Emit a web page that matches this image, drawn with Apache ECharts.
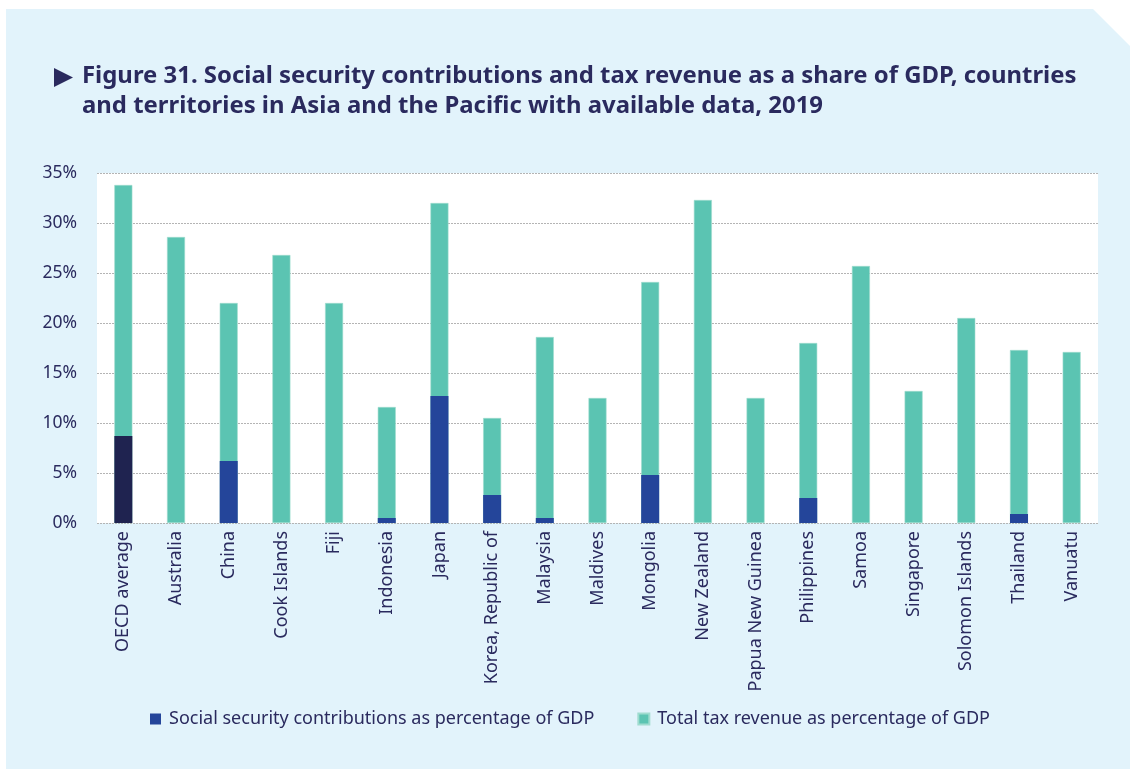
<!DOCTYPE html>
<html>
<head>
<meta charset="utf-8">
<script src="https://cdn.jsdelivr.net/npm/echarts@6/dist/echarts.min.js"></script>
<style>
  html, body { margin: 0; padding: 0; background: #fff; }
  #chart { width: 1130px; height: 769px; }
</style>
</head>
<body>
<div id="chart"></div>
<script>
const categories = ['OECD average', 'Australia', 'China', 'Cook Islands', 'Fiji', 'Indonesia', 'Japan',
  'Korea, Republic of', 'Malaysia', 'Maldives', 'Mongolia', 'New Zealand', 'Papua New Guinea',
  'Philippines', 'Samoa', 'Singapore', 'Solomon Islands', 'Thailand', 'Vanuatu']

// social security contributions, % of GDP (null = no data)
const socialSecurity = [8.7, null, 6.2, null, null, 0.5, 12.7, 2.8, 0.5, null, 4.8, null, null, 2.5, null, null, null, 0.9, null]

// total tax revenue, % of GDP
const totalTax = [33.8, 28.6, 22.0, 26.8, 22.0, 11.6, 32.0, 10.5, 18.6, 12.5, 24.1, 32.3, 12.5, 18.0, 25.7, 13.2, 20.5, 17.3, 17.1]

const yTicks = [0, 5, 10, 15, 20, 25, 30, 35]

const navy = '#2a2a5e'
const ssColor = '#24459a'
const oecdColor = '#1f2350'
const taxColor = '#5bc4b2'

const myChart = echarts.init(document.getElementById('chart'))

const option = {
  backgroundColor: '#fff',
  animation: false,
  graphic: [
    {
      type: 'polygon',
      z: -100,
      silent: true,
      shape: { points: [[6, 9], [1093, 9], [1130, 46], [1130, 769], [6, 769]] },
      style: { fill: '#e2f3fb' }
    },
    {
      type: 'polygon',
      shape: { points: [[54, 68], [73, 77.5], [54, 87]] },
      style: { fill: navy }
    },
    {
      type: 'text',
      left: 82,
      top: 61,
      style: {
        text: 'Figure 31. Social security contributions and tax revenue as a share of GDP, countries\nand territories in Asia and the Pacific with available data, 2019',
        fill: navy,
        font: 'bold 23.9px "Noto Sans"',
        lineHeight: 30
      }
    }
  ],
  legend: {
    data: ['Social security contributions as percentage of GDP', 'Total tax revenue as percentage of GDP'],
    left: 145,
    top: 705,
    icon: 'rect',
    itemWidth: 11,
    itemHeight: 11,
    itemGap: 43,
    textStyle: { color: navy, fontSize: 18, fontFamily: 'Noto Sans', padding: [0, 0, 0, 3] }
  },
  grid: {
    left: 97,
    right: 32,
    top: 173,
    bottom: 246,
    show: true,
    backgroundColor: '#fff',
    borderWidth: 0
  },
  xAxis: {
    type: 'category',
    data: categories,
    axisLine: { show: false },
    axisTick: { show: false },
    axisLabel: {
      interval: 0,
      rotate: 90,
      margin: 8,
      color: navy,
      fontSize: 18,
      fontFamily: 'Noto Sans'
    }
  },
  yAxis: {
    type: 'value',
    min: yTicks[0],
    max: yTicks[yTicks.length - 1],
    interval: 5,
    axisLine: { show: false },
    axisTick: { show: false },
    axisLabel: {
      formatter: '{value}%',
      margin: 20,
      color: navy,
      fontSize: 17.5,
      fontFamily: 'Noto Sans'
    },
    splitLine: { lineStyle: { type: [2, 1], color: '#b4b4b4', width: 1 } }
  },
  series: [
    {
      name: 'Social security contributions as percentage of GDP',
      type: 'bar',
      barWidth: 18,
      barGap: '-100%',
      z: 3,
      itemStyle: { color: ssColor },
      data: socialSecurity.map((v, i) => i === 0 ? { value: v, itemStyle: { color: oecdColor } } : v)
    },
    {
      name: 'Total tax revenue as percentage of GDP',
      type: 'bar',
      barWidth: 18,
      barGap: '-100%',
      itemStyle: { color: taxColor, borderColor: '#9fdccf', borderWidth: 0.6 },
      data: totalTax
    }
  ]
}

myChart.setOption(option)

window.addEventListener('resize', () => {
  myChart.resize()
})
</script>
</body>
</html>
